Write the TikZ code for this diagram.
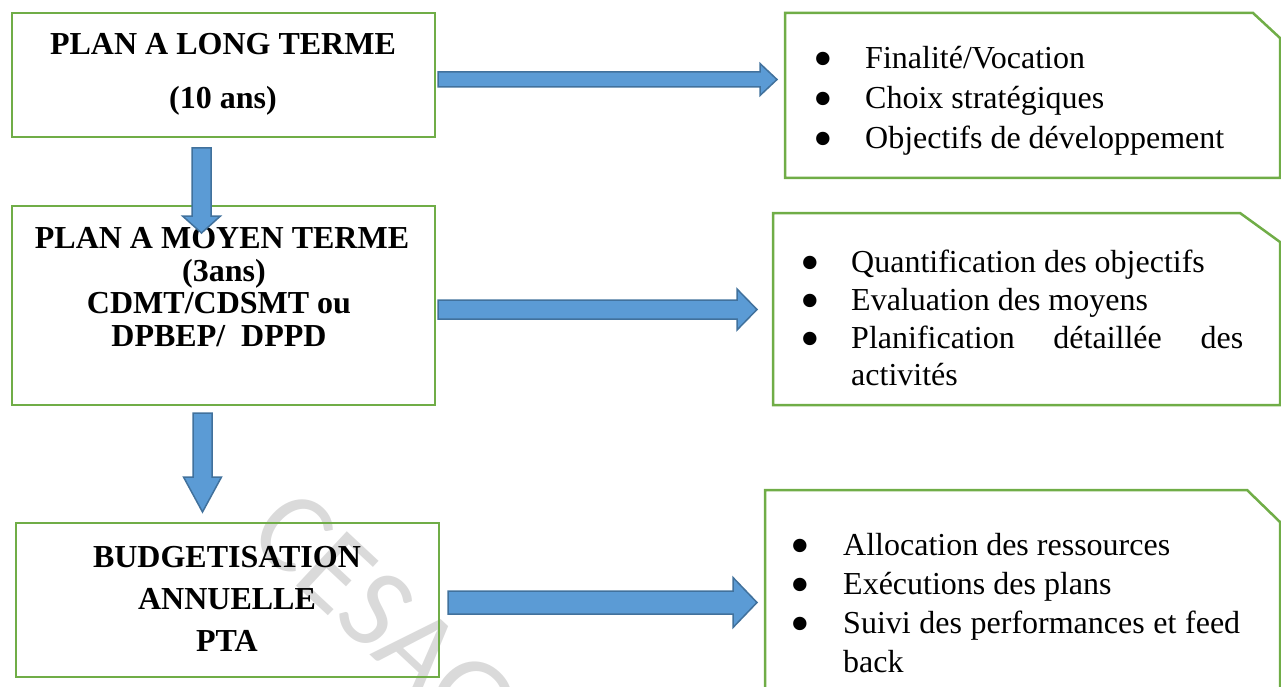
\documentclass[tikz,border=0pt]{standalone}
\usepackage{fontspec}
\setmainfont{Liberation Serif}
\newfontfamily\wmfont{Carlito}
\usetikzlibrary{calc}
\definecolor{boxgreen}{HTML}{70AD47}
\definecolor{arrfill}{HTML}{5B9BD5}
\definecolor{arrdraw}{HTML}{41719C}
\definecolor{wmgray}{HTML}{DADADA}
% bullet glyph, larger like a Symbol bullet
\newcommand\bigbul{\raisebox{-9pt}{\fontsize{56}{38}\selectfont •}}
% horizontal block arrow: start, tip, half shaft, half head, head length
\newcommand\harrow[5]{%
  \draw[blockarrow] ($(#1)+(0,-#3)$) -- ($(#2)+(-#5,-#3)$) -- ($(#2)+(-#5,-#4)$)
    -- (#2) -- ($(#2)+(-#5,#4)$) -- ($(#2)+(-#5,#3)$) -- ($(#1)+(0,#3)$) -- cycle;}
% vertical (downward) block arrow
\newcommand\varrow[5]{%
  \draw[blockarrow] ($(#1)+(-#3,0)$) -- ($(#2)+(-#3,-#5)$) -- ($(#2)+(-#4,-#5)$)
    -- (#2) -- ($(#2)+(#4,-#5)$) -- ($(#2)+(#3,-#5)$) -- ($(#1)+(#3,0)$) -- cycle;}
\begin{document}
\begin{tikzpicture}[x=1pt,y=-1pt,
  boxline/.style={draw=boxgreen,line width=2.5pt},
  plainbox/.style={boxline,inner sep=0pt,outer sep=0pt},
  snipbox/.style={inner sep=0pt,outer sep=0pt},
  title/.style={font=\fontsize{32}{38}\selectfont\bfseries,inner sep=0pt,anchor=base},
  item/.style={font=\fontsize{32}{38}\selectfont,inner sep=0pt,anchor=base west},
  blockarrow/.style={fill=arrfill,draw=arrdraw,line width=1.5pt,line join=miter},
  wm/.style={font=\wmfont\fontsize{116}{116}\selectfont,text=wmgray,inner sep=0pt}]
\path[use as bounding box] (0,0) rectangle (1281,687);
\clip (0,0) rectangle (1281,687);

% watermark
\node[wm,rotate=-43] (wm) at (384,617) {CESAG};

% left boxes
\node[plainbox,minimum width=423pt,minimum height=124pt] (b1) at (223.5,75) {};
\node[plainbox,minimum width=423pt,minimum height=199pt] (b2) at (223.5,305.5) {};
\node[plainbox,minimum width=423pt,minimum height=154pt] (b3) at (227.5,600) {};

\node[title] (t1a) at (223,55) {PLAN A LONG TERME};
\node[title] (t1b) at (223,109) {(10 ans)};

\node[title] (t2a) at (222,248) {PLAN A MOYEN TERME};
\node[title] (t2b) at (224,281) {(3ans)};
\node[title] (t2c) at (219,313) {CDMT/CDSMT ou};
\node[title] (t2d) at (219,346) {DPBEP/\hspace{0.5em}DPPD};

\node[title] (t3a) at (227,567) {BUDGETISATION};
\node[title] (t3b) at (227,609) {ANNUELLE};
\node[title] (t3c) at (227,651) {PTA};

% right boxes (snipped top-right corner)
\node[snipbox,minimum width=495pt,minimum height=165pt] (r1) at (1032.5,95.5) {};
\node[snipbox,minimum width=507pt,minimum height=192pt] (r2) at (1026.5,309) {};
\node[snipbox,minimum width=515pt,minimum height=210pt] (r3) at (1022.5,595) {};
\draw[boxline,line join=miter] (r1.south west) -- (r1.north west) -- ([xshift=-27pt]r1.north east)
  -- ([yshift=-25pt]r1.north east) -- (r1.south east) -- cycle;
\draw[boxline,line join=miter] (r2.south west) -- (r2.north west) -- ([xshift=-40pt]r2.north east)
  -- ([yshift=-29pt]r2.north east) -- (r2.south east) -- cycle;
\draw[boxline,line join=miter] (r3.south west) -- (r3.north west) -- ([xshift=-33pt]r3.north east)
  -- ([yshift=-32pt]r3.north east) -- (r3.south east) -- cycle;

% bullet items
\node[item] (r1i1) at (781,69) {\makebox[84pt]{\bigbul}Finalité/Vocation};
\node[item] (r1i2) at (781,109) {\makebox[84pt]{\bigbul}Choix stratégiques};
\node[item] (r1i3) at (781,149) {\makebox[84pt]{\bigbul}Objectifs de développement};

\node[item] (r2i1) at (769,272) {\makebox[82pt]{\bigbul}Quantification des objectifs};
\node[item] (r2i2) at (769,310) {\makebox[82pt]{\bigbul}Evaluation des moyens};
\node[item] (r2i3) at (769,348) {\makebox[82pt]{\bigbul}\hbox to 392pt{Planification\hfill détaillée\hfill des}};
\node[item] (r2i4) at (851,385) {activités};

\node[item] (r3i1) at (757,555) {\makebox[86pt]{\bigbul}Allocation des ressources};
\node[item] (r3i2) at (757,594) {\makebox[86pt]{\bigbul}Exécutions des plans};
\node[item] (r3i3) at (757,633) {\makebox[86pt]{\bigbul}\hbox to 397pt{Suivi des performances et feed}};
\node[item] (r3i4) at (843,672) {back};

% connector anchor points
\coordinate (d1s) at (201.5,148);
\coordinate (d1e) at (201.5,233);
\coordinate (d2s) at (202.5,413);
\coordinate (d2e) at (202.5,512);
\coordinate (a1s) at ([xshift=3pt]b1.east |- 0,79.5);
\coordinate (a1e) at (777,79.5);
\coordinate (a2s) at ([xshift=3pt]b2.east |- 0,309.5);
\coordinate (a2e) at (757,309.5);
\coordinate (a3s) at (448,602.5);
\coordinate (a3e) at (757,602.5);

% block arrows
\varrow{d1s}{d1e}{9.5}{19}{17}
\varrow{d2s}{d2e}{9.5}{19}{35}
\harrow{a1s}{a1e}{7.5}{16}{17}
\harrow{a2s}{a2e}{9.5}{20.5}{20}
\harrow{a3s}{a3e}{11.5}{25}{24}
\end{tikzpicture}
\end{document}
